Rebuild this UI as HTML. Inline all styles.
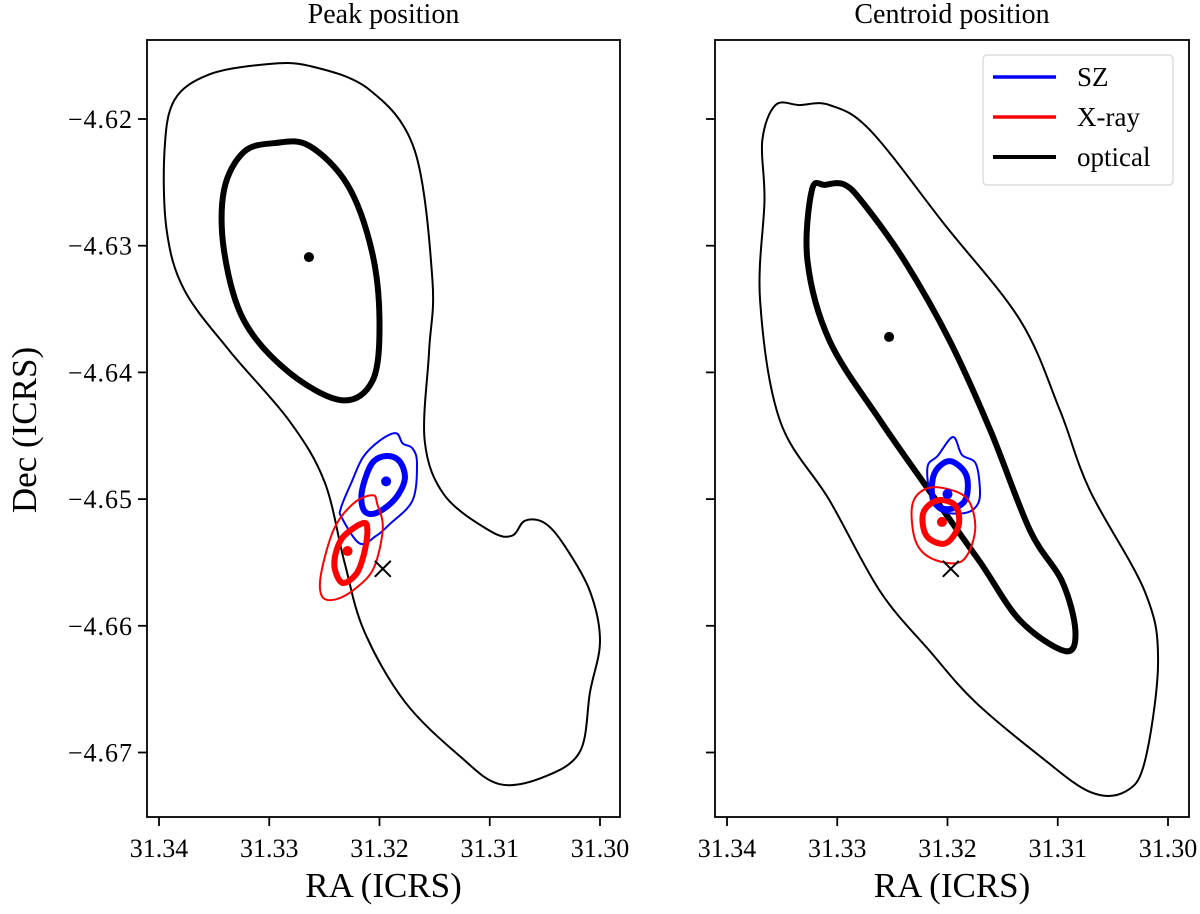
<!DOCTYPE html>
<html><head><meta charset="utf-8"><style>
body{margin:0;background:#fff}
svg text{font-family:"Liberation Serif","DejaVu Serif",serif !important;fill:#000}
</style></head><body>
<svg id="c" width="1200" height="909" viewBox="0 0 1200 909" xmlns="http://www.w3.org/2000/svg" font-family="Liberation Serif, serif"></svg>
<script>
const xTicks=[31.34,31.33,31.32,31.31,31.30];
const xTickLabels=["31.34","31.33","31.32","31.31","31.30"];
const yTicks=[-4.62,-4.63,-4.64,-4.65,-4.66,-4.67];
const yTickLabels=["\u22124.62","\u22124.63","\u22124.64","\u22124.65","\u22124.66","\u22124.67"];
const panelTitles=["Peak position","Centroid position"];
const legendLabels=["SZ","X-ray","optical"];
const legendColors=["#0000ff","#ff0000","#000000"];
// contours [ra, dec]
const peakOpticalOuter=[[31.3305,-4.6157],[31.3355,-4.6165],[31.3386,-4.6185],[31.3395,-4.6225],[31.3393,-4.6288],[31.3377,-4.6335],[31.3336,-4.6383],[31.3282,-4.6438],[31.3250,-4.6486],[31.3232,-4.6549],[31.3214,-4.6604],[31.3177,-4.6660],[31.3127,-4.6703],[31.3091,-4.6725],[31.3050,-4.6719],[31.3018,-4.6699],[31.3009,-4.6652],[31.3000,-4.6612],[31.3009,-4.6573],[31.3032,-4.6537],[31.3050,-4.6519],[31.3068,-4.6517],[31.3080,-4.6529],[31.3100,-4.6525],[31.3141,-4.6497],[31.3159,-4.6454],[31.3155,-4.6383],[31.3152,-4.6327],[31.3168,-4.6225],[31.3209,-4.6177],[31.3264,-4.6158]];
const peakOpticalInner=[[31.3295,-4.6219],[31.3323,-4.6226],[31.3341,-4.6256],[31.3341,-4.6304],[31.3323,-4.6359],[31.3282,-4.6400],[31.3234,-4.6422],[31.3206,-4.6406],[31.3200,-4.6359],[31.3207,-4.6304],[31.3229,-4.6252],[31.3264,-4.6221]];
const peakSZOuter=[[31.3185,-4.6448],[31.3200,-4.6454],[31.3215,-4.6467],[31.3225,-4.6486],[31.3235,-4.6507],[31.3234,-4.6515],[31.3218,-4.6535],[31.3203,-4.6529],[31.3191,-4.6520],[31.3170,-4.6501],[31.3166,-4.6472],[31.3170,-4.6460],[31.3179,-4.6456]];
const peakSZInner=[[31.3194,-4.6466],[31.3207,-4.6472],[31.3216,-4.6494],[31.3214,-4.6509],[31.3203,-4.6511],[31.3186,-4.6500],[31.3177,-4.6484],[31.3182,-4.6470]];
const peakXOuter=[[31.3206,-4.6497],[31.3223,-4.6503],[31.3241,-4.6523],[31.3253,-4.6559],[31.3252,-4.6577],[31.3239,-4.6579],[31.3221,-4.6570],[31.3205,-4.6554],[31.3197,-4.6523],[31.3202,-4.6504]];
const peakXInner=[[31.3215,-4.6519],[31.3234,-4.6531],[31.3241,-4.6551],[31.3234,-4.6566],[31.3221,-4.6559],[31.3214,-4.6543],[31.3211,-4.6525]];
const cenOpticalOuter=[[31.3334,-4.6189],[31.3356,-4.6189],[31.3368,-4.6217],[31.3366,-4.6264],[31.3370,-4.6343],[31.3352,-4.6438],[31.3307,-4.6501],[31.3261,-4.6573],[31.3216,-4.6620],[31.3175,-4.6660],[31.3116,-4.6703],[31.3071,-4.6731],[31.3039,-4.6731],[31.3021,-4.6707],[31.3009,-4.6628],[31.3021,-4.6573],[31.3071,-4.6493],[31.3098,-4.6430],[31.3134,-4.6359],[31.3202,-4.6284],[31.3270,-4.6209],[31.3307,-4.6189]];
const cenOpticalInner=[[31.3311,-4.6252],[31.3323,-4.6256],[31.3327,-4.6312],[31.3307,-4.6375],[31.3261,-4.6438],[31.3216,-4.6494],[31.3171,-4.6549],[31.3134,-4.6596],[31.3093,-4.6620],[31.3084,-4.6604],[31.3096,-4.6565],[31.3125,-4.6525],[31.3161,-4.6446],[31.3198,-4.6375],[31.3239,-4.6312],[31.3275,-4.6268],[31.3293,-4.6252]];
const cenSZOuter=[[31.3195,-4.6451],[31.3209,-4.6466],[31.3218,-4.6474],[31.3216,-4.6495],[31.3207,-4.6509],[31.3184,-4.6511],[31.3172,-4.6503],[31.3171,-4.6487],[31.3175,-4.6471],[31.3187,-4.6465]];
const cenSZInner=[[31.3198,-4.6470],[31.3212,-4.6480],[31.3213,-4.6501],[31.3200,-4.6508],[31.3184,-4.6501],[31.3183,-4.6481]];
const cenXOuter=[[31.3220,-4.6492],[31.3232,-4.6505],[31.3229,-4.6533],[31.3214,-4.6547],[31.3187,-4.6549],[31.3175,-4.6525],[31.3181,-4.6501],[31.3200,-4.6492]];
const cenXInner=[[31.3209,-4.6501],[31.3222,-4.6511],[31.3219,-4.6529],[31.3202,-4.6535],[31.3190,-4.6521],[31.3193,-4.6505]];
const peakDots=[[31.3264,-4.6309],[31.3194,-4.6486],[31.3229,-4.6541]];
const cenDots=[[31.3253,-4.6372],[31.3200,-4.6496],[31.3205,-4.6518]];
const crossPos=[31.3197,-4.6555];

const NS="http://www.w3.org/2000/svg";
const svg=document.getElementById('c');
function mk(tag,attrs,parent){const e=document.createElementNS(NS,tag);for(const k in attrs)e.setAttribute(k,attrs[k]);if(tag==='text')e.setAttribute('font-family','Liberation Serif, serif');(parent||svg).appendChild(e);return e;}
const panels=[{x0:147,x1:620,ax:159,title:panelTitles[0],cont:[[peakOpticalOuter,'#000',2],[peakOpticalInner,'#000',6],[peakSZOuter,'#0000ff',2],[peakSZInner,'#0000ff',6],[peakXOuter,'#ff0000',2],[peakXInner,'#ff0000',6]],dots:peakDots,yl:true},
{x0:715,x1:1189,ax:727,title:panelTitles[1],cont:[[cenOpticalOuter,'#000',2],[cenOpticalInner,'#000',6],[cenSZOuter,'#0000ff',2],[cenSZInner,'#0000ff',6],[cenXOuter,'#ff0000',2],[cenXInner,'#ff0000',6]],dots:cenDots,yl:false}];
const yTop=40,yBot=817;
function yS(d){return 119+(-4.62-d)*12670;}
function smooth(pts){let n=pts.length,s=`M${pts[0][0]},${pts[0][1]}`;for(let i=0;i<n;i++){const p0=pts[(i-1+n)%n],p1=pts[i],p2=pts[(i+1)%n],p3=pts[(i+2)%n];s+=` C${p1[0]+(p2[0]-p0[0])/6},${p1[1]+(p2[1]-p0[1])/6} ${p2[0]-(p3[0]-p1[0])/6},${p2[1]-(p3[1]-p1[1])/6} ${p2[0]},${p2[1]}`;}return s+'Z';}
const dotColors=['#000','#0000ff','#ff0000'];
panels.forEach((p,pi)=>{
  const xS=ra=>p.ax+(31.34-ra)*11025;
  const g=mk('g',{});
  
  
  p.cont.forEach((c,ci)=>{
    const path=mk('path',{d:smooth(c[0].map(q=>[xS(q[0]),yS(q[1])])),fill:'none',stroke:c[1],'stroke-width':c[2],'stroke-linejoin':'round'},g);
    
    
  });
  p.dots.forEach((d,di)=>{
    const e=mk('circle',{cx:xS(d[0]),cy:yS(d[1]),r:5,fill:dotColors[di]},g);
    
    
  });
  const cx=xS(crossPos[0]),cy=yS(crossPos[1]);
  const cr=mk('path',{d:`M${cx-8},${cy-8}L${cx+8},${cy+8}M${cx-8},${cy+8}L${cx+8},${cy-8}`,stroke:'#000','stroke-width':2},g);
  
  
  const fr=mk('rect',{x:p.x0,y:yTop,width:p.x1-p.x0,height:yBot-yTop,fill:'none',stroke:'#000','stroke-width':1.8},g);
  
  
  xTicks.forEach((t,i)=>{const x=xS(t);mk('line',{x1:x,x2:x,y1:yBot,y2:yBot+9,stroke:'#000','stroke-width':1.8},g);
    const tx=mk('text',{x:x,y:yBot+40,'text-anchor':'middle','font-size':26},g);tx.textContent=xTickLabels[i];
    
    });
  yTicks.forEach((t,i)=>{const y=yS(t);mk('line',{x1:p.x0-9,x2:p.x0,y1:y,y2:y,stroke:'#000','stroke-width':1.8},g);
    if(p.yl){const tx=mk('text',{x:p.x0-14,y:y+9,'text-anchor':'end','font-size':26,'letter-spacing':1},g);tx.textContent=yTickLabels[i];
    
    }});
  const ti=mk('text',{x:(p.x0+p.x1)/2,y:23,'text-anchor':'middle','font-size':28},g);ti.textContent=p.title;
  
  
  const xl=mk('text',{x:(p.x0+p.x1)/2,y:897,'text-anchor':'middle','font-size':35},g);xl.textContent='RA (ICRS)';
  
  
});
const yl=mk('text',{x:0,y:0,'text-anchor':'middle','font-size':35,transform:'translate(36,430) rotate(-90)'});yl.textContent='Dec (ICRS)';


const lg=mk('g',{});


mk('rect',{x:983,y:55,width:190,height:130,rx:4,fill:'#fff',stroke:'#ddd','stroke-width':1.5},lg);
legendLabels.forEach((l,i)=>{const y=77+i*40;
  mk('line',{x1:993,x2:1056,y1:y,y2:y,stroke:legendColors[i],'stroke-width':i==2?4:3.5},lg);
  const t=mk('text',{x:1077,y:y+9,'font-size':27},lg);t.textContent=l;
  
  });
</script>
</body></html>
